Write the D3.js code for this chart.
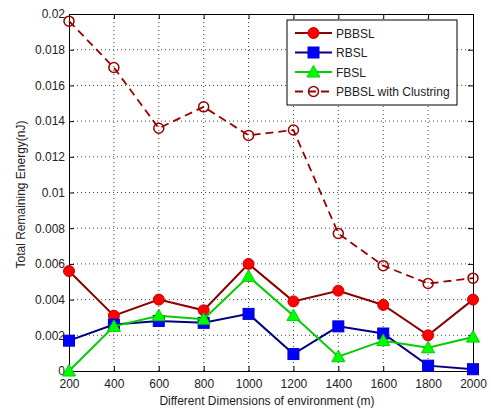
<!DOCTYPE html>
<html>
<head>
<meta charset="utf-8">
<script src="https://cdn.jsdelivr.net/npm/d3@7"></script>
<style>
  body { margin: 0; background: #fff; }
  svg { font-family: "Liberation Sans", Arial, sans-serif; }
</style>
</head>
<body>
<div class="chart"></div>
<script>
const dims = [200, 400, 600, 800, 1000, 1200, 1400, 1600, 1800, 2000];
const pbbsl = [0.0056, 0.0031, 0.0040, 0.0034, 0.0060, 0.0039, 0.0045, 0.0037, 0.0020, 0.0040];
const rbsl = [0.0017, 0.0026, 0.0028, 0.0027, 0.0032, 0.00095, 0.0025, 0.0021, 0.0003, 0.0001];
const fbsl = [0.0000, 0.0025, 0.0031, 0.0029, 0.0053, 0.0031, 0.0008, 0.0017, 0.0013, 0.0019];
const pbbslClust = [0.0196, 0.0170, 0.0136, 0.0148, 0.0132, 0.0135, 0.0077, 0.0059, 0.0049, 0.0052];
const yTicks = [0, 0.002, 0.004, 0.006, 0.008, 0.01, 0.012, 0.014, 0.016, 0.018, 0.02];
const yTickLabels = ['0', '0.002', '0.004', '0.006', '0.008', '0.01', '0.012', '0.014', '0.016', '0.018', '0.02'];

const series = [
    {name: 'PBBSL', values: pbbsl, line: '#8b0000', fill: '#ff0000', stroke: '#ff0000', marker: 'circle', dash: null},
    {name: 'RBSL', values: rbsl, line: '#000080', fill: '#0000ff', stroke: '#0000ff', marker: 'square', dash: null},
    {name: 'FBSL', values: fbsl, line: '#00cc00', fill: '#00ff00', stroke: '#00ff00', marker: 'triangle', dash: null},
    {name: 'PBBSL with Clustring', values: pbbslClust, line: '#990000', fill: 'none', stroke: '#990000', marker: 'open', dash: '8,5'}
];

const W = 491, H = 410;
const margin = {top: 14, right: 18, bottom: 39, left: 69};
const width = W - margin.left - margin.right;
const height = H - margin.top - margin.bottom;

const svg = d3.select('.chart').append('svg')
    .attr('width', W)
    .attr('height', H);

const g = svg.append('g')
    .attr('transform', 'translate(' + margin.left + ',' + margin.top + ')');

const x = d3.scaleLinear().domain([200, 2000]).range([0, width]);
const y = d3.scaleLinear().domain([0, 0.02]).range([height, 0]);

// grid (dotted)
g.append('g').selectAll('line.gx')
    .data(dims.slice(1, -1))
    .enter().append('line')
    .attr('x1', d => x(d)).attr('x2', d => x(d))
    .attr('y1', 0).attr('y2', height)
    .attr('stroke', '#444').attr('stroke-width', 1)
    .attr('stroke-dasharray', '1,3');
g.append('g').selectAll('line.gy')
    .data(yTicks.slice(1, -1))
    .enter().append('line')
    .attr('x1', 0).attr('x2', width)
    .attr('y1', d => y(d)).attr('y2', d => y(d))
    .attr('stroke', '#444').attr('stroke-width', 1)
    .attr('stroke-dasharray', '1,3');

// axes with inward ticks (MATLAB style)
const xAxis = g.append('g')
    .attr('transform', 'translate(0,' + height + ')')
    .call(d3.axisBottom(x).tickValues(dims).tickSize(-5).tickPadding(8).tickFormat(d3.format('d')));
const yAxis = g.append('g')
    .call(d3.axisLeft(y).tickValues(yTicks).tickSize(-5).tickPadding(4)
        .tickFormat((d, i) => yTickLabels[i]));
const xTop = g.append('g')
    .call(d3.axisTop(x).tickValues(dims).tickSize(-5).tickFormat(''));
const yRight = g.append('g')
    .attr('transform', 'translate(' + width + ',0)')
    .call(d3.axisRight(y).tickValues(yTicks).tickSize(-5).tickFormat(''));

[xAxis, yAxis, xTop, yRight].forEach(a => {
    a.select('.domain').attr('stroke', '#000');
    a.selectAll('.tick line').attr('stroke', '#000');
    a.selectAll('.tick text').attr('font-size', 12).attr('fill', '#222')
        .attr('font-family', '"Liberation Sans", Arial, sans-serif');
});

// lines + markers
const line = d3.line()
    .x((d, i) => x(dims[i]))
    .y(d => y(d));

function drawMarker(sel, s, cx, cy) {
    if (s.marker === 'circle') {
        sel.append('circle').attr('cx', cx).attr('cy', cy).attr('r', 5.5)
            .attr('fill', s.fill).attr('stroke', '#cc0000').attr('stroke-width', 1);
    } else if (s.marker === 'square') {
        sel.append('rect').attr('x', cx - 5.5).attr('y', cy - 5.5).attr('width', 11).attr('height', 11)
            .attr('fill', s.fill).attr('stroke', '#0000cc').attr('stroke-width', 1);
    } else if (s.marker === 'triangle') {
        sel.append('path')
            .attr('d', 'M' + cx + ',' + (cy - 6.5) + 'L' + (cx + 6.5) + ',' + (cy + 5) + 'L' + (cx - 6.5) + ',' + (cy + 5) + 'Z')
            .attr('fill', s.fill).attr('stroke', '#00cc00').attr('stroke-width', 1);
    } else {
        sel.append('circle').attr('cx', cx).attr('cy', cy).attr('r', 5)
            .attr('fill', 'none').attr('stroke', s.stroke).attr('stroke-width', 1.5);
    }
}

series.forEach(s => {
    g.append('path')
        .datum(s.values)
        .attr('fill', 'none')
        .attr('stroke', s.line)
        .attr('stroke-width', s.dash ? 1.8 : 2)
        .attr('stroke-dasharray', s.dash)
        .attr('d', line);
    const mg = g.append('g');
    s.values.forEach((v, i) => drawMarker(mg, s, x(dims[i]), y(v)));
});

// legend
const lx = 287 - margin.left, ly = 20 - margin.top;
const legend = g.append('g').attr('transform', 'translate(' + lx + ',' + ly + ')');
legend.append('rect')
    .attr('width', 170).attr('height', 85)
    .attr('fill', '#fff').attr('stroke', '#000').attr('stroke-width', 1);
series.forEach((s, i) => {
    const yy = 13 + i * 19.5;
    legend.append('line')
        .attr('x1', 8).attr('x2', 45).attr('y1', yy).attr('y2', yy)
        .attr('stroke', s.line).attr('stroke-width', 2)
        .attr('stroke-dasharray', s.dash);
    drawMarker(legend, s, 26.5, yy);
    legend.append('text')
        .attr('x', 49).attr('y', yy + 4.5)
        .attr('font-size', 12).attr('fill', '#222')
        .text(s.name);
});

// axis titles
svg.append('text')
    .attr('x', margin.left + width / 2 - 4).attr('y', 405)
    .attr('text-anchor', 'middle')
    .attr('font-size', 12).attr('fill', '#222')
    .text('Different Dimensions of environment (m)');
svg.append('text')
    .attr('transform', 'translate(25,' + (margin.top + height / 2 + 2) + ') rotate(-90)')
    .attr('text-anchor', 'middle')
    .attr('font-size', 12).attr('fill', '#222')
    .text('Total Remaining Energy(nJ)');
</script>
</body>
</html>
